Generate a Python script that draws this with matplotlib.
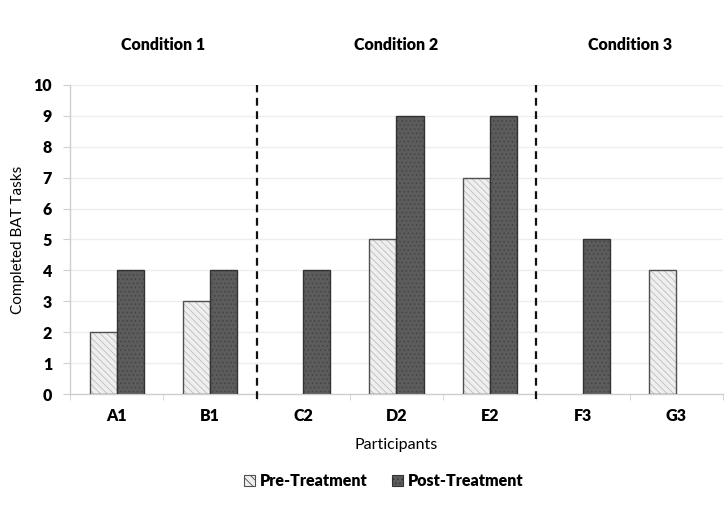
import matplotlib
matplotlib.use("Agg")
import matplotlib.pyplot as plt
import numpy as np
from matplotlib.patches import Patch

plt.rcParams['font.family'] = ['Lato', 'DejaVu Sans']
plt.rcParams['hatch.linewidth'] = 0.6

participants = ["A1", "B1", "C2", "D2", "E2", "F3", "G3"]
pre_treatment = [2, 3, 0, 5, 7, 0, 4]
post_treatment = [4, 4, 4, 9, 9, 5, 0]
conditions = ["Condition 1", "Condition 2", "Condition 3"]
condition_spans = [(0, 2), (2, 5), (5, 7)]
y_ticks = list(range(0, 11))

BOLD = "heavy"

fig = plt.figure(figsize=(7.28, 5.05), dpi=100)
ax = fig.add_axes([0.0962, 0.2198, 0.8968, 0.6119])

x = np.arange(len(participants))
w = 0.29
pre_col = "#efefef"
post_col = "#5c5c5c"

for i in range(len(participants)):
    if pre_treatment[i] > 0:
        ax.bar(x[i] - w / 2, pre_treatment[i], w, color=pre_col, edgecolor="#bdbdbd",
               hatch="\\\\\\\\\\", linewidth=0, zorder=2)
        ax.bar(x[i] - w / 2, pre_treatment[i], w, fill=False, edgecolor="#505050",
               linewidth=1.0, zorder=3)
    if post_treatment[i] > 0:
        ax.bar(x[i] + w / 2, post_treatment[i], w, color=post_col, edgecolor="#444444",
               hatch="....", linewidth=0, zorder=2)
        ax.bar(x[i] + w / 2, post_treatment[i], w, fill=False, edgecolor="#333333",
               linewidth=1.0, zorder=3)

ax.set_xlim(-0.5, len(participants) - 0.5)
ax.set_ylim(0, 10)
ax.set_yticks(y_ticks)
ax.set_yticklabels([str(t) for t in y_ticks], fontweight=BOLD, fontsize=11.5)
ax.set_xticks(x)
ax.set_xticklabels(participants, fontweight=BOLD, fontsize=11.5)
ax.tick_params(axis="x", length=0, pad=10)
ax.set_xticks(np.arange(-0.5, len(participants), 1.0), minor=True)
ax.tick_params(axis="x", which="minor", length=4, color="#cfcfcf", direction="out")
ax.tick_params(axis="y", length=5, color="#cfcfcf", direction="out", pad=8)

ax.yaxis.grid(True, color="#eeeeee", linewidth=1.0, zorder=0)
ax.set_axisbelow(True)
for s in ["top", "right"]:
    ax.spines[s].set_visible(False)
for s in ["left", "bottom"]:
    ax.spines[s].set_color("#cfcfcf")
    ax.spines[s].set_linewidth(1.0)

ax.set_xlabel("Participants", fontsize=11.5, labelpad=10)
ax.set_ylabel("Completed BAT Tasks", fontsize=11, labelpad=6)

for (a, b) in condition_spans[1:]:
    ax.plot([a - 0.5, a - 0.5], [-0.15, 10], color="#111111", linestyle=(0, (3.5, 2.5)),
            linewidth=1.6, clip_on=False, zorder=4)

for name, (a, b) in zip(conditions, condition_spans):
    ax.text((a + b) / 2 - 0.5, 1.13, name, transform=ax.get_xaxis_transform(),
            ha="center", va="center", fontweight=BOLD, fontsize=11.5)

handles = [Patch(facecolor=pre_col, edgecolor="#505050", hatch="\\\\\\\\", linewidth=0.8),
           Patch(facecolor=post_col, edgecolor="#333333", hatch="....", linewidth=0.8)]
fig.legend(handles, ["Pre-Treatment", "Post-Treatment"], loc="center",
           bbox_to_anchor=(0.527, 0.048), ncol=2, frameon=False,
           prop={"weight": BOLD, "size": 11.5}, handlelength=0.7, handleheight=0.7,
           handletextpad=0.3, columnspacing=1.5)

fig.savefig("out.png", dpi=100)
